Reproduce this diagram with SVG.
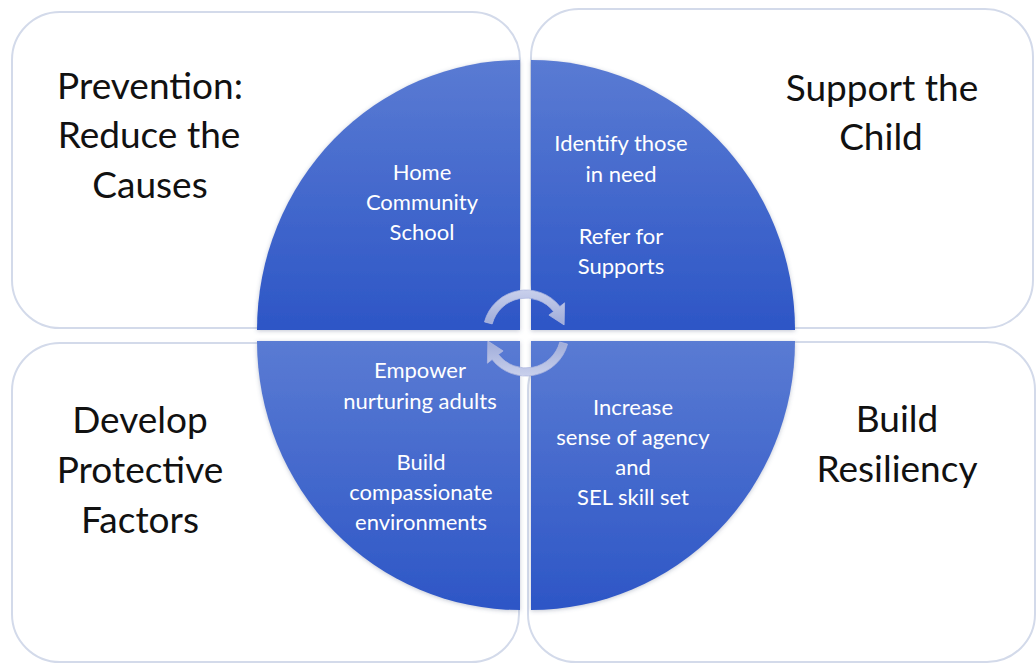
<svg xmlns="http://www.w3.org/2000/svg" width="1036" height="664" viewBox="0 0 1036 664">
  <defs>
    <linearGradient id="quadFill" x1="0" y1="0" x2="0" y2="1">
      <stop offset="0" stop-color="#5a7bd3"/>
      <stop offset="1" stop-color="#2d56c6"/>
    </linearGradient>
    <linearGradient id="cycleFill" x1="0" y1="0" x2="0" y2="1">
      <stop offset="0" stop-color="#c9d0ec"/>
      <stop offset="1" stop-color="#9eabd9"/>
    </linearGradient>
    <filter id="soft" x="-5%" y="-5%" width="110%" height="110%">
      <feDropShadow dx="0" dy="1" stdDeviation="2" flood-color="#506080" flood-opacity="0.35"/>
    </filter>
  </defs>
  <style>
    .box { fill: #ffffff; stroke: #d3daea; stroke-width: 2; }
    .quad { fill: url(#quadFill); filter: url(#soft); }
    .title { font-family: Lato, "Liberation Sans", sans-serif; font-size: 37px; fill: #111111; text-anchor: middle; }
    .inner { font-family: Lato, "Liberation Sans", sans-serif; font-size: 22px; fill: #ffffff; text-anchor: middle; }
    .cycle { fill: url(#cycleFill); stroke: #aeb8df; stroke-width: 0.8; }
  </style>
  <rect width="1036" height="664" fill="#ffffff"/>

  <!-- outer rounded boxes with headings -->
  <g id="box-prevention">
    <rect class="box" x="12" y="12" width="508" height="316" rx="48"/>
    <text class="title" x="150" y="99">Prevention:</text>
    <text class="title" x="149" y="148">Reduce the</text>
    <text class="title" x="150" y="198">Causes</text>
  </g>
  <g id="box-support">
    <rect class="box" x="531" y="9" width="502" height="319" rx="48"/>
    <text class="title" x="882" y="101">Support the</text>
    <text class="title" x="881" y="150">Child</text>
  </g>
  <g id="box-protective">
    <rect class="box" x="12" y="343" width="507" height="319" rx="48"/>
    <text class="title" x="140" y="433">Develop</text>
    <text class="title" x="140" y="483">Protective</text>
    <text class="title" x="140" y="533">Factors</text>
  </g>
  <g id="box-resiliency">
    <rect class="box" x="528" y="342" width="507" height="320" rx="48"/>
    <text class="title" x="897" y="432">Build</text>
    <text class="title" x="897" y="482">Resiliency</text>
  </g>

  <!-- circle quadrants -->
  <g id="quad-causes">
    <path class="quad" d="M520,330 L257,330 A263,270 0 0 1 520,60 Z"/>
    <text class="inner" x="422" y="180">Home</text>
    <text class="inner" x="422" y="210">Community</text>
    <text class="inner" x="422" y="240">School</text>
  </g>
  <g id="quad-child">
    <path class="quad" d="M531,330 L531,60 A264,270 0 0 1 795,330 Z"/>
    <text class="inner" x="621" y="151">Identify those</text>
    <text class="inner" x="621" y="182">in need</text>
    <text class="inner" x="621" y="244">Refer for</text>
    <text class="inner" x="621" y="274">Supports</text>
  </g>
  <g id="quad-factors">
    <path class="quad" d="M520,341 L520,610 A263,269 0 0 1 257,341 Z"/>
    <text class="inner" x="420" y="378">Empower</text>
    <text class="inner" x="420" y="409">nurturing adults</text>
    <text class="inner" x="421" y="470">Build</text>
    <text class="inner" x="421" y="500">compassionate</text>
    <text class="inner" x="421" y="530">environments</text>
  </g>
  <g id="quad-resiliency">
    <path class="quad" d="M531,341 L795,341 A264,269 0 0 1 531,610 Z"/>
    <text class="inner" x="633" y="415">Increase</text>
    <text class="inner" x="633" y="445">sense of agency</text>
    <text class="inner" x="633" y="475">and</text>
    <text class="inner" x="633" y="505">SEL skill set</text>
  </g>

  <!-- central cycle arrows -->
  <g id="connectors">
    <path id="cycle-top" class="cycle" d="M484.5,321.9 A43,43 0 0 1 559.9,306.5 L564.6,302.8 L564.1,324.9 L548.9,315.1 L553.6,311.5 A35,35 0 0 0 492.2,323.9 Z"/>
    <path id="cycle-bottom" class="cycle" transform="rotate(180 526 333)" d="M484.5,321.9 A43,43 0 0 1 559.9,306.5 L564.6,302.8 L564.1,324.9 L548.9,315.1 L553.6,311.5 A35,35 0 0 0 492.2,323.9 Z"/>
  </g>
</svg>
